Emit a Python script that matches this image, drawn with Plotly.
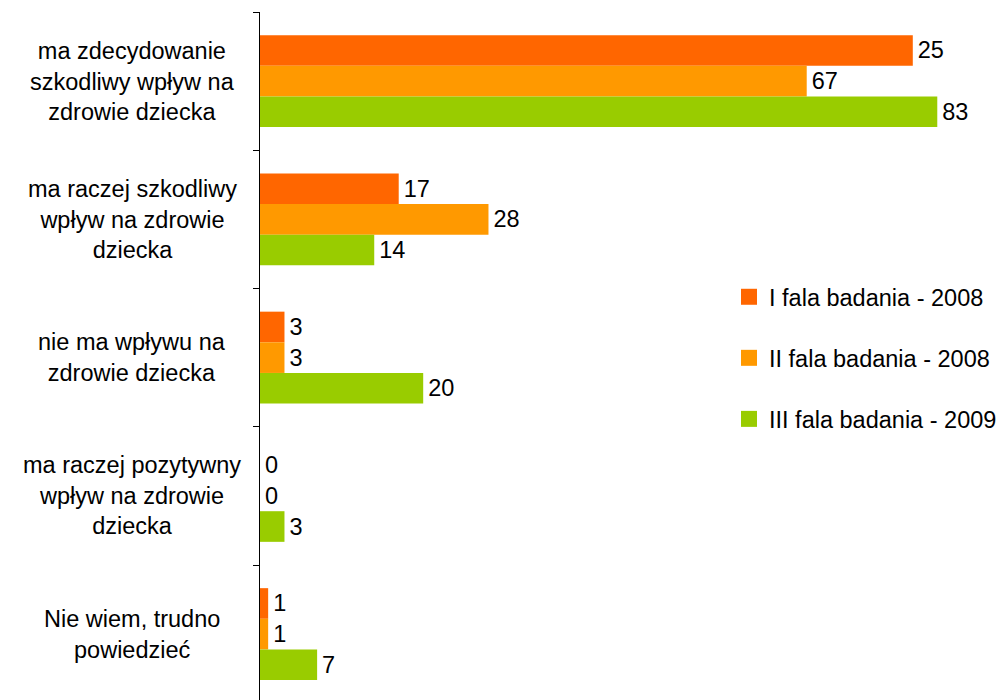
import plotly.graph_objects as go

categories = [
    "ma zdecydowanie<br>szkodliwy wpływ na<br>zdrowie dziecka",
    "ma raczej szkodliwy<br>wpływ na zdrowie<br>dziecka",
    "nie ma wpływu na<br>zdrowie dziecka",
    "ma raczej pozytywny<br>wpływ na zdrowie<br>dziecka",
    "Nie wiem, trudno<br>powiedzieć",
]
series_names = ["I fala badania - 2008", "II fala badania - 2008", "III fala badania - 2009"]
values_I = [80, 17, 3, 0, 1]
values_II = [67, 28, 3, 0, 1]
values_III = [83, 14, 20, 3, 7]
labels_I = ["25", "17", "3", "0", "1"]
labels_II = ["67", "28", "3", "0", "1"]
labels_III = ["83", "14", "20", "3", "7"]
colors = ["#FF6600", "#FF9900", "#99CC00"]

FONT = "Liberation Sans, Arial, sans-serif"
FS = 23.5
W, H = 997, 700
ML, MR, MT, MB = 260, 0, 12, 0
PW = W - ML - MR
PH = H - MT - MB

cat_ids = list(range(len(categories)))
fig = go.Figure()
for name, vals, labs, col in zip(series_names, [values_I, values_II, values_III],
                                 [labels_I, labels_II, labels_III], colors):
    fig.add_trace(go.Bar(
        y=cat_ids, x=vals, orientation="h", name=name,
        marker=dict(color=col, line=dict(width=0)),
        text=["\u200a" + t for t in labs], textposition="outside",
        textfont=dict(family=FONT, size=FS, color="#000000"),
        constraintext="none", cliponaxis=False, showlegend=False,
        legendgroup=name,
    ))
for name, col in zip(series_names, colors):
    fig.add_trace(go.Scatter(
        x=[None], y=[None], mode="markers", name=name, legendgroup=name,
        marker=dict(symbol="square", size=16, color=col),
    ))

for i, cat in enumerate(categories):
    fig.add_annotation(
        x=(132 - ML) / PW, xref="paper", y=i, yref="y",
        text=cat, showarrow=False, xanchor="center", yanchor="middle",
        align="center", font=dict(family=FONT, size=FS, color="#000000"),
    )

span = PH / 138.25
fig.update_layout(
    width=W, height=H,
    margin=dict(l=ML, r=MR, t=MT, b=MB, pad=0, autoexpand=False),
    paper_bgcolor="white", plot_bgcolor="white",
    barmode="group", bargap=0.335, bargroupgap=0,
    font=dict(family=FONT, size=FS, color="#000000"),
    xaxis=dict(range=[0, PW / 8.16], visible=False, fixedrange=True),
    yaxis=dict(
        type="linear", range=[-0.5 + span, -0.5],
        showticklabels=False, showgrid=False, zeroline=False,
        showline=True, linecolor="#000000", linewidth=1,
        tickmode="array", tickvals=[i - 0.5 for i in range(len(categories) + 1)],
        ticks="outside", ticklen=6, tickcolor="#000000", tickwidth=1,
        fixedrange=True,
    ),
    legend=dict(
        x=(729 - ML) / PW, xanchor="left",
        y=1 - (275 - MT) / PH, yanchor="top",
        font=dict(family=FONT, size=FS, color="#000000"),
        bgcolor="rgba(0,0,0,0)", borderwidth=0,
        tracegroupgap=27.5, itemsizing="trace",
    ),
    showlegend=True,
)

fig.write_html(
    "out.html",
    config={"displayModeBar": False},
    post_script="document.body.style.margin='0';document.body.style.overflow='hidden';",
)
